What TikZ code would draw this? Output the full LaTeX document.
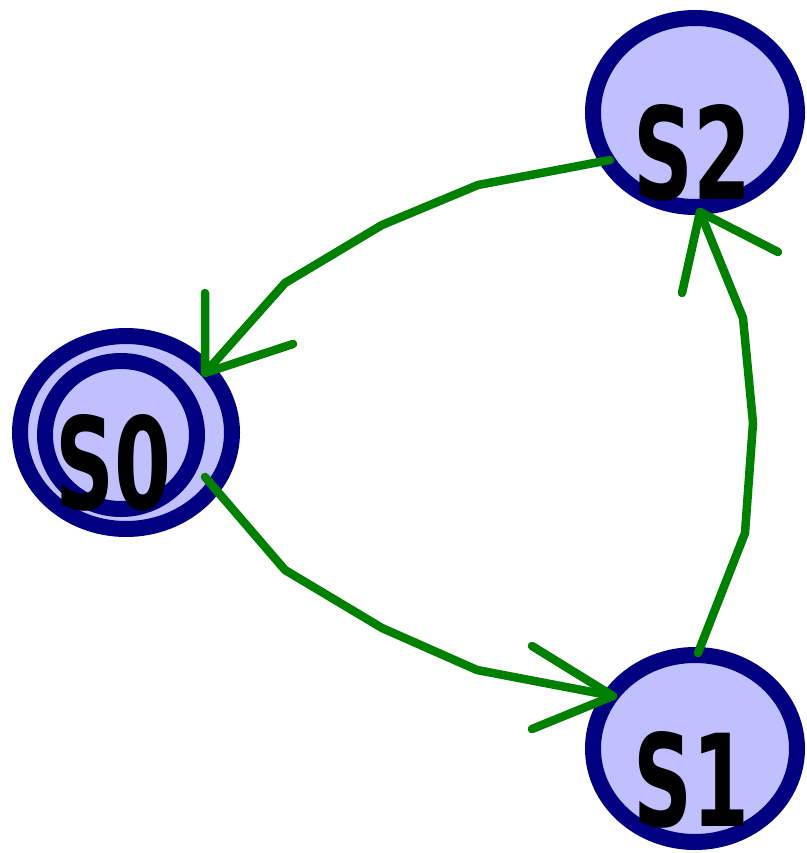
\documentclass[tikz,border=0pt]{standalone}
\usepackage{fontspec}
\usepackage{graphicx}
\setmainfont{DejaVu Sans}
\usetikzlibrary{shapes.geometric,calc}
\definecolor{statefill}{RGB}{192,192,255}
\definecolor{statering}{RGB}{0,0,128}
\definecolor{edgegreen}{RGB}{0,128,0}
\begin{document}
\begin{tikzpicture}[x=1pt,y=-1pt,
  state/.style={ellipse,draw=statering,fill=statefill,line width=16pt,inner sep=0pt,outer sep=0pt},
  trans/.style={draw=edgegreen,line width=8.5pt,line cap=round,line join=round},
  lbl/.style={inner sep=0pt,anchor=south west,font=\fontsize{128}{128}\selectfont\bfseries}]
\useasboundingbox (0,0) rectangle (806,853);
% states
\node[state,minimum width=212pt,minimum height=193pt] (s0) at (126,432.5) {};
\node[state,minimum width=152pt,minimum height=148pt] (s0i) at (121,435) {};
\node[state,minimum width=204pt,minimum height=189pt] (s2) at (695,112.5) {};
\node[state,minimum width=204pt,minimum height=187pt] (s1) at (695,748.5) {};
% transitions
\draw[trans] ($(s0)+(79,44.5)$) -- (285,570) -- (382,628) -- (477,670) -- ($(s1)+(-82,-52.5)$) coordinate (e1tip);
\draw[trans] ($(e1tip)+(-81,-50)$) -- (e1tip) -- ($(e1tip)+(-81,33)$);
\draw[trans] ($(s1)+(3,-95.5)$) -- (745,533) -- (753,423) -- (743,318) -- ($(s2)+(5,99.5)$) coordinate (e2tip);
\draw[trans] ($(e2tip)+(-18,81)$) -- (e2tip) -- ($(e2tip)+(78,40)$);
\draw[trans] ($(s2)+(-85,47.5)$) -- (478,185) -- (382,225) -- (285,283) -- ($(s0)+(79,-59.5)$) coordinate (e3tip);
\draw[trans] ($(e3tip)+(0,-80)$) -- (e3tip) -- ($(e3tip)+(88,-29)$);
% labels
\node[lbl] (t0) at (55,512) {\scalebox{0.64}[1]{S0}};
\node[lbl] (t2) at (633,202) {\scalebox{0.65}[1]{S2}};
\node[lbl] (t1) at (633,829) {\scalebox{0.64}[1]{S1}};
\end{tikzpicture}
\end{document}
